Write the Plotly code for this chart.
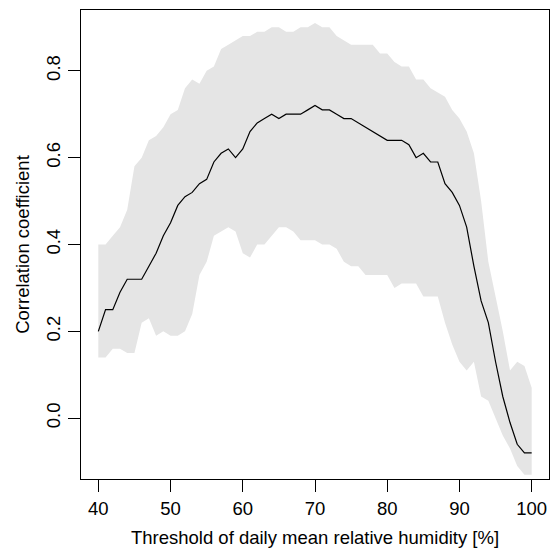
import plotly.graph_objects as go

# Threshold of daily mean relative humidity [%]
threshold = [40, 41, 42, 43, 44, 45, 46, 47, 48, 49,
             50, 51, 52, 53, 54, 55, 56, 57, 58, 59,
             60, 61, 62, 63, 64, 65, 66, 67, 68, 69,
             70, 71, 72, 73, 74, 75, 76, 77, 78, 79,
             80, 81, 82, 83, 84, 85, 86, 87, 88, 89,
             90, 91, 92, 93, 94, 95, 96, 97, 98, 99, 100]

# Correlation coefficient (central estimate)
corr = [0.20, 0.25, 0.25, 0.29, 0.32, 0.32, 0.32, 0.35, 0.38, 0.42,
        0.45, 0.49, 0.51, 0.52, 0.54, 0.55, 0.59, 0.61, 0.62, 0.60,
        0.62, 0.66, 0.68, 0.69, 0.70, 0.69, 0.70, 0.70, 0.70, 0.71,
        0.72, 0.71, 0.71, 0.70, 0.69, 0.69, 0.68, 0.67, 0.66, 0.65,
        0.64, 0.64, 0.64, 0.63, 0.60, 0.61, 0.59, 0.59, 0.54, 0.52,
        0.49, 0.44, 0.35, 0.27, 0.22, 0.13, 0.05, -0.01, -0.06, -0.08, -0.08]

# Upper and lower bounds of the interval
upper = [0.40, 0.40, 0.42, 0.44, 0.48, 0.58, 0.60, 0.64, 0.65, 0.67,
         0.70, 0.71, 0.76, 0.78, 0.77, 0.80, 0.81, 0.85, 0.86, 0.87,
         0.88, 0.88, 0.89, 0.89, 0.90, 0.90, 0.89, 0.89, 0.90, 0.90,
         0.91, 0.90, 0.90, 0.88, 0.87, 0.86, 0.86, 0.86, 0.86, 0.84,
         0.84, 0.82, 0.81, 0.81, 0.78, 0.78, 0.76, 0.75, 0.74, 0.71,
         0.69, 0.66, 0.61, 0.50, 0.36, 0.28, 0.20, 0.11, 0.13, 0.12, 0.07]

lower = [0.14, 0.14, 0.16, 0.16, 0.15, 0.15, 0.22, 0.23, 0.19, 0.20,
         0.19, 0.19, 0.20, 0.24, 0.33, 0.36, 0.42, 0.43, 0.44, 0.43,
         0.38, 0.37, 0.40, 0.40, 0.42, 0.44, 0.44, 0.43, 0.41, 0.41,
         0.41, 0.40, 0.40, 0.39, 0.36, 0.35, 0.35, 0.33, 0.33, 0.33,
         0.33, 0.30, 0.31, 0.31, 0.31, 0.28, 0.28, 0.28, 0.22, 0.17,
         0.13, 0.11, 0.13, 0.05, 0.04, 0.00, -0.04, -0.07, -0.11, -0.13, -0.13]

x_ticks = [40, 50, 60, 70, 80, 90, 100]
y_ticks = [0.0, 0.2, 0.4, 0.6, 0.8]
y_tick_text = ["0.0", "0.2", "0.4", "0.6", "0.8"]

FONT = "Liberation Sans, Arial, Helvetica, sans-serif"

fig = go.Figure()

# Shaded interval polygon: upper bound forward, lower bound backward
fig.add_trace(go.Scatter(
    x=threshold + threshold[::-1],
    y=upper + lower[::-1],
    fill="toself",
    fillcolor="#E5E5E5",
    line=dict(width=0),
    mode="lines",
    hoverinfo="skip",
    showlegend=False,
))

fig.add_trace(go.Scatter(
    x=threshold,
    y=corr,
    mode="lines",
    line=dict(color="black", width=1.2),
    showlegend=False,
))

fig.update_layout(
    width=554,
    height=550,
    margin=dict(l=81, r=5, t=10, b=71),
    paper_bgcolor="white",
    plot_bgcolor="white",
    font=dict(family=FONT, size=18.5, color="black"),
)

fig.update_xaxes(
    range=[37.6, 102.4],
    tickvals=x_ticks,
    ticks="outside",
    ticklen=12,
    tickwidth=1,
    tickcolor="black",
    showline=True,
    linecolor="black",
    linewidth=1,
    mirror=True,
    showgrid=False,
    zeroline=False,
    ticklabelstandoff=1,
    title=dict(text="Threshold of daily mean relative humidity [%]", standoff=12,
               font=dict(size=18.5)),
)

fig.update_yaxes(
    range=[-0.14, 0.94],
    tickvals=y_ticks,
    ticktext=y_tick_text,
    tickangle=-90,
    ticks="outside",
    ticklen=12,
    tickwidth=1,
    tickcolor="black",
    showline=True,
    linecolor="black",
    linewidth=1,
    mirror=True,
    showgrid=False,
    zeroline=False,
    ticklabelstandoff=1,
    title=dict(text="Correlation coefficient", standoff=8, font=dict(size=18.5)),
)

fig.write_html("out.html")
